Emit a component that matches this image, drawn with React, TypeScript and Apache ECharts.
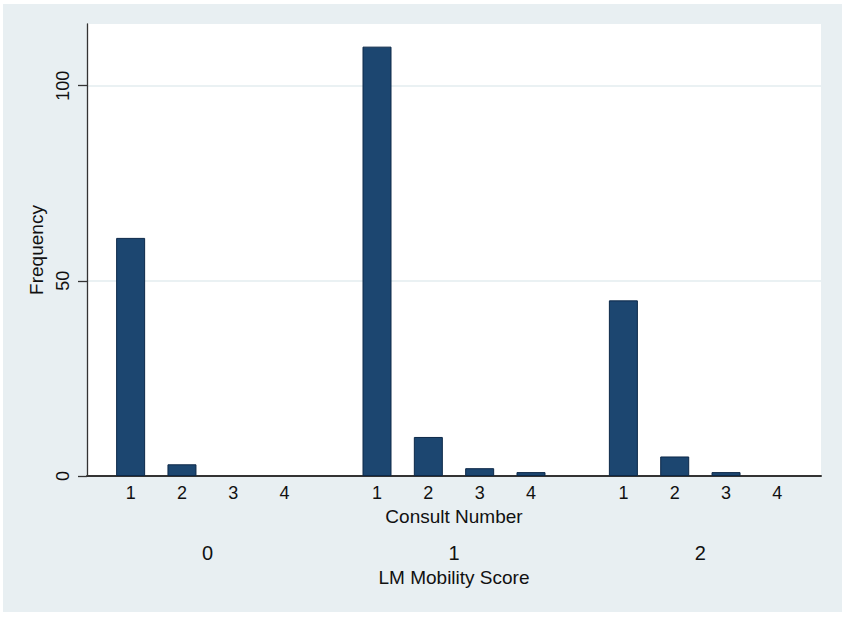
import React, { useEffect, useRef } from "react";
import * as echarts from "echarts";

const groupLabels = ["0", "1", "2"];
const consultLabels = ["1", "2", "3", "4"];
const freqGroup0 = [61, 3, 0, 0];
const freqGroup1 = [110, 10, 2, 1];
const freqGroup2 = [45, 5, 1, 0];
const yTicks = [0, 50, 100];

const FONT = "'Liberation Sans', Arial, Helvetica, sans-serif";
const STEP = 20;
const STRIDE = 96;

export default function App() {
  const ref = useRef<HTMLDivElement>(null);
  useEffect(() => {
    document.body.style.margin = "0";
    const chart = echarts.init(ref.current!, null, { renderer: "svg" });
    const groupsData = [freqGroup0, freqGroup1, freqGroup2];
    const data: any[] = [];
    const labelMap: Record<string, string> = {};
    const tickVals: number[] = [];
    groupsData.forEach((arr, g) => {
      arr.forEach((v, k) => {
        const x = g * STRIDE + k * STEP;
        data.push(v === 0 ? { value: [x, v], itemStyle: { borderWidth: 0 } } : [x, v]);
        tickVals.push(x);
        labelMap[String(x)] = consultLabels[k];
      });
    });
    const groupCenters = groupLabels.map((_, g) => g * STRIDE + 1.5 * STEP);
    const groupMap: Record<string, string> = {};
    groupCenters.forEach((c, g) => (groupMap[String(c)] = groupLabels[g]));

    chart.setOption({
      animation: false,
      textStyle: { fontFamily: FONT },
      graphic: [
        {
          type: "rect",
          z: -10,
          shape: { x: 3, y: 4, width: 839, height: 608 },
          style: { fill: "#e8eff2" },
          silent: true,
        },
      ],
      grid: {
        left: 87,
        right: 26,
        top: 24,
        bottom: 142,
        show: true,
        backgroundColor: "#ffffff",
        borderWidth: 0,
      },
      xAxis: [
        {
          type: "value",
          min: -17,
          max: 269,
          position: "bottom",
          axisLine: { show: true, onZero: false, lineStyle: { color: "#333", width: 2 } },
          axisTick: { show: false },
          splitLine: { show: false },
          axisLabel: {
            customValues: tickVals,
            formatter: (v: number) => labelMap[String(v)] ?? "",
            fontSize: 18,
            color: "#111",
            margin: 8,
            fontFamily: FONT,
          },
          name: "Consult Number",
          nameLocation: "middle",
          nameGap: 31,
          nameTextStyle: { fontSize: 19, color: "#111", fontFamily: FONT },
        },
        {
          type: "value",
          min: -17,
          max: 269,
          position: "bottom",
          axisLine: { show: false },
          axisTick: { show: false },
          splitLine: { show: false },
          axisLabel: {
            customValues: groupCenters,
            formatter: (v: number) => groupMap[String(v)] ?? "",
            fontSize: 20,
            color: "#111",
            margin: 67,
            fontFamily: FONT,
          },
          name: "LM Mobility Score",
          nameLocation: "middle",
          nameGap: 91,
          nameTextStyle: { fontSize: 19, color: "#111", fontFamily: FONT },
        },
      ],
      yAxis: {
        type: "value",
        min: 0,
        max: 115.8,
        axisLine: { show: true, onZero: false, lineStyle: { color: "#333", width: 1.3 } },
        axisTick: {
          show: true,
          customValues: yTicks,
          length: 9,
          lineStyle: { color: "#333", width: 1.3 },
        },
        axisLabel: {
          customValues: yTicks,
          rotate: 90,
          fontSize: 18,
          color: "#111",
          margin: 15,
          fontFamily: FONT,
        },
        splitLine: { show: true, lineStyle: { color: "#e3ecef", width: 1.5 } },
        name: "Frequency",
        nameLocation: "middle",
        nameGap: 37,
        nameTextStyle: { fontSize: 19, color: "#111", fontFamily: FONT },
      },
      series: [
        {
          type: "bar",
          xAxisIndex: 0,
          data,
          barWidth: 29,
          itemStyle: { color: "#1c4670", borderColor: "#0c2848", borderWidth: 1 },
        },
      ],
    });
    return () => chart.dispose();
  }, []);
  return <div ref={ref} style={{ width: 847, height: 618 }} />;
}
